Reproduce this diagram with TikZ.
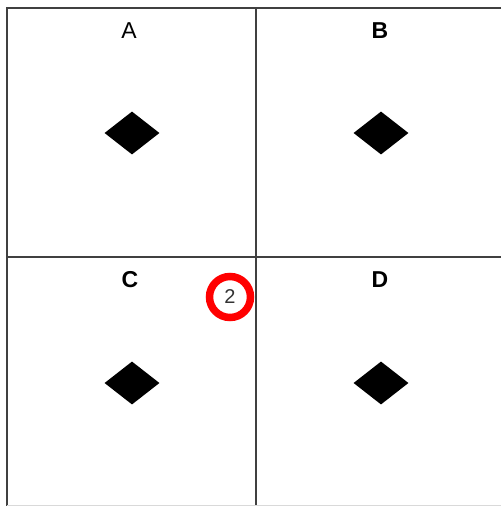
\documentclass[tikz,border=0pt]{standalone}
\usepackage{fontspec}
\setmainfont{Liberation Sans}
\usepackage{tikz}
\usetikzlibrary{shapes.geometric}

\begin{document}
\begin{tikzpicture}[x=1pt,y=-1pt,
  grid/.style={draw=black!75,line width=2pt},
  lbl/.style={font=\fontsize{23}{26}\selectfont,inner sep=0pt},
  gem/.style={diamond,fill=black,inner sep=0pt,minimum width=55pt,minimum height=43pt},
  mark2/.style={circle,draw=red,line width=7.5pt,minimum size=41pt,inner sep=0pt,
    text=black!80,font=\fontsize{20}{22}\selectfont}]
\useasboundingbox (0,0) rectangle (501,506);
% frame and quadrants
\draw[grid] (501,8) -- (7,8) -- (7,506);
\draw[grid] (256,8) -- (256,506);
\draw[grid] (7,257) -- (501,257);
\draw[black!15,line width=1pt] (7,505.5) -- (501,505.5);
% labels
\node[lbl] (labA) at (129,31)  {A};
\node[lbl] (labB) at (380,31)  {\bfseries B};
\node[lbl] (labC) at (130,280) {\bfseries C};
\node[lbl] (labD) at (380,280) {\bfseries D};
% diamonds
\node[gem] (gemA) at (132,133) {};
\node[gem] (gemB) at (381,133) {};
\node[gem] (gemC) at (132,383) {};
\node[gem] (gemD) at (381,383) {};
% callout
\node[mark2] (num2) at (230,297) {2};
\end{tikzpicture}
\end{document}
